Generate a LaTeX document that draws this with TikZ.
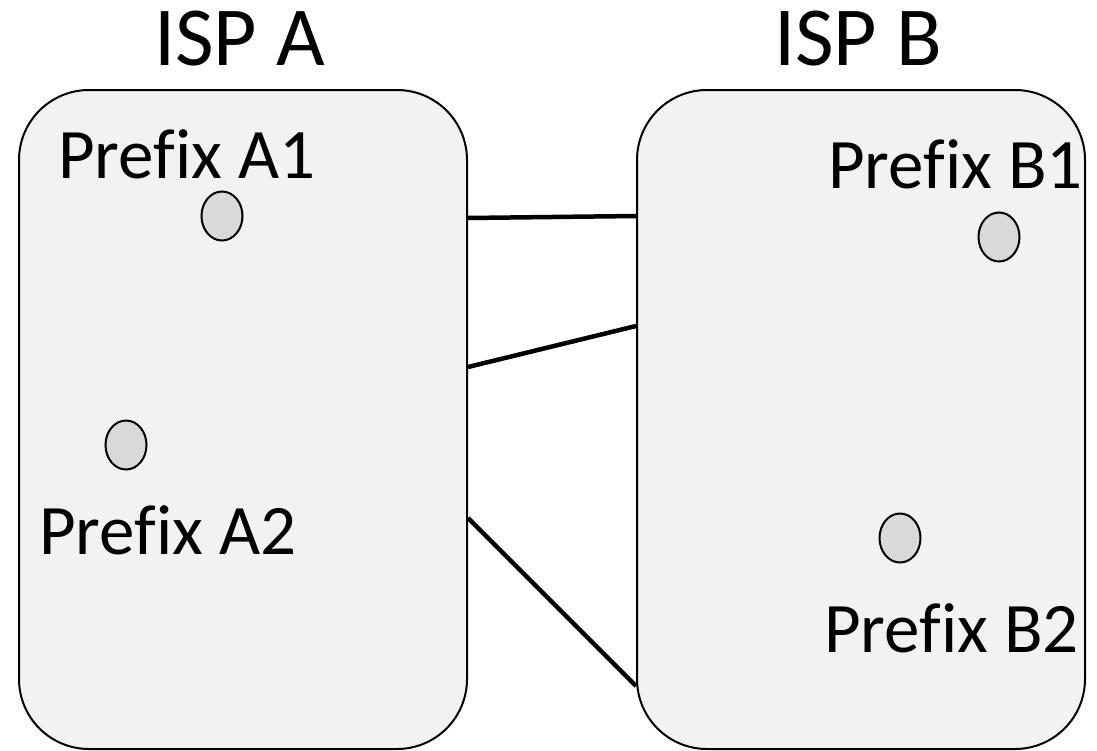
\documentclass[tikz,border=0pt]{standalone}
\usepackage{fontspec}
\setmainfont{Carlito}[Ligatures=NoCommon]
\usetikzlibrary{shapes.geometric}
\definecolor{boxfill}{HTML}{F2F2F2}
\definecolor{dotfill}{HTML}{D9D9D9}
\begin{document}
\begin{tikzpicture}[x=1pt,y=-1pt,
  ispbox/.style={draw=black, line width=2pt, fill=boxfill, rounded corners=70pt, inner sep=0pt, minimum width=448pt, minimum height=659pt},
  dot/.style={ellipse, draw=black, line width=2pt, fill=dotfill, inner sep=0pt, minimum width=41pt, minimum height=49pt},
  link/.style={line width=4.5pt, line cap=butt},
  lbl/.style={anchor=base west, inner sep=0pt, font=\fontsize{71pt}{71pt}\selectfont},
  title/.style={anchor=base west, inner sep=0pt, font=\fontsize{84pt}{84pt}\selectfont}]
\useasboundingbox[fill=white] (0,0) rectangle (1097,750);
\node[ispbox] (boxA) at (243,419.5) {};
\node[ispbox] (boxB) at (861,419.5) {};
\node[title] (tA) at (154,65) {ISP A};
\node[title] (tB) at (774,65) {ISP B};
\node[dot] (pA1) at (222,216) {};
\node[dot] (pA2) at (126,445) {};
\node[dot] (pB1) at (999,237) {};
\node[dot] (pB2) at (900,538) {};
\node[lbl] (lA1) at (58,178) {Prefix A1};
\node[lbl] (lA2) at (39,554) {Prefix A2};
\node[lbl] (lB1) at (828,188) {Prefix B1};
\node[lbl] (lB2) at (824,652) {Prefix B2};
\coordinate (a1) at (boxA.east |- 0,218);
\coordinate (b1) at (boxB.west |- 0,216);
\coordinate (a2) at (boxA.east |- 0,367);
\coordinate (b2) at (boxB.west |- 0,326);
\coordinate (a3) at (boxA.east |- 0,518);
\coordinate (b3) at (boxB.west |- 0,686);
\draw[link] (a1) -- (b1);
\draw[link] (a2) -- (b2);
\draw[link] (a3) -- (b3);
\end{tikzpicture}
\end{document}
